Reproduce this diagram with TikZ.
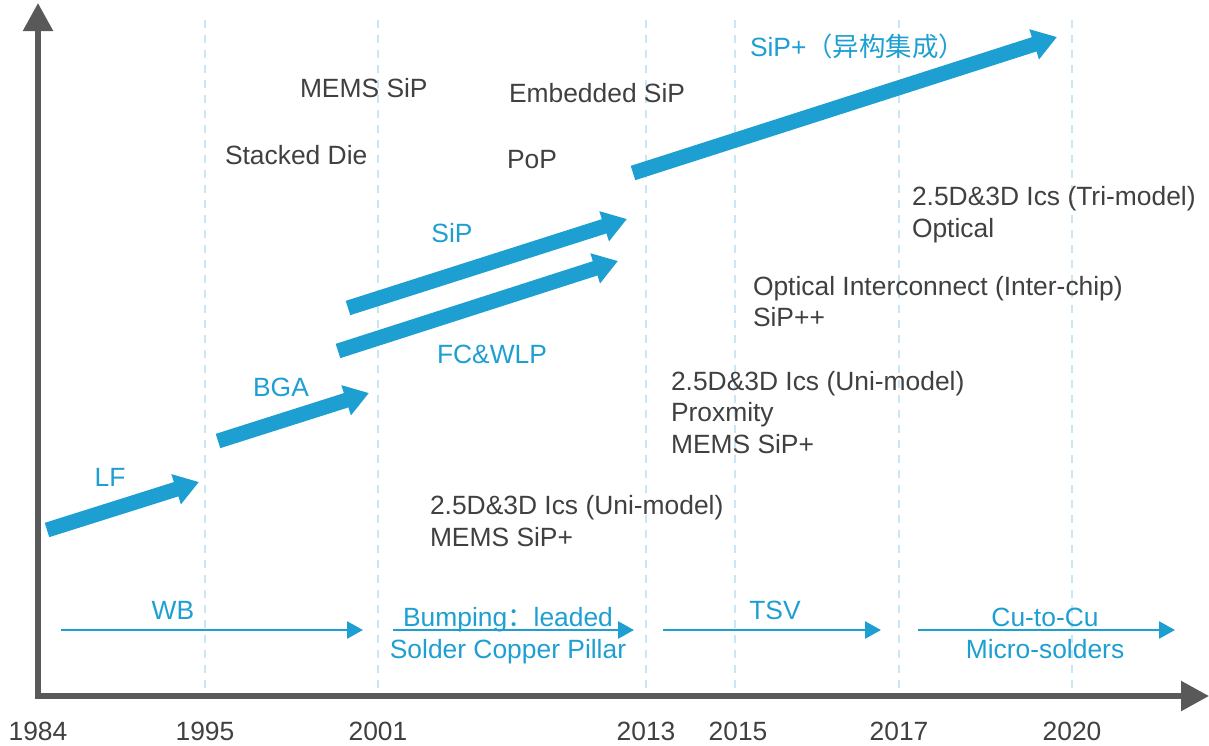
\documentclass[tikz,border=0pt]{standalone}
\usepackage{fontspec}
\setmainfont{Liberation Sans}
\newfontfamily\cjk{Noto Sans CJK SC}
\usetikzlibrary{arrows.meta}
\definecolor{axisgray}{RGB}{89,89,89}
\definecolor{txtgray}{RGB}{64,64,64}
\definecolor{sblue}{RGB}{30,159,210}
\definecolor{dashblue}{RGB}{200,230,246}
\tikzset{
  x=1pt,y=-1pt,
  every node/.style={font=\fontsize{26.4}{31}\selectfont, inner sep=0pt, outer sep=0pt},
  gtxt/.style={text=txtgray, anchor=base west},
  btxt/.style={text=sblue, anchor=base},
  yr/.style={text=txtgray, anchor=base},
  axis/.style={draw=axisgray, line width=5.5pt, -{Triangle[length=28pt,width=29pt]}},
  grid/.style={draw=dashblue, line width=2pt, dash pattern=on 8pt off 7pt},
  thick arrow/.style={draw=sblue, line width=15pt, line cap=butt, -{Triangle[length=24pt,width=30pt]}},
  thin arrow/.style={draw=sblue, line width=2.6pt, -{Triangle[length=16pt,width=17pt]}},
}
\begin{document}
\begin{tikzpicture}
\useasboundingbox (0,0) rectangle (1209,745);
% grid lines
\foreach \gx/\gn in {205/g1995,378/g2001,646/g2013,735/g2015,899/g2017,1072/g2020}{
  \coordinate (\gn t) at (\gx,20);
  \coordinate (\gn b) at (\gx,692);
  \draw[grid] (\gn t) -- (\gn b);
}
% axes
\coordinate (origin) at (38,696);
\coordinate (ytip) at (38,3);
\coordinate (xtip) at (1209,696);
\coordinate (ybase) at (38,698.75);
\coordinate (xbase) at (35.25,696);
\draw[axis] (ybase) -- (ytip);
\draw[axis] (xbase) -- (xtip);
% years
\node[yr] (y1984) at (38,740) {1984};
\node[yr] (y1995) at (205,740) {1995};
\node[yr] (y2001) at (378,740) {2001};
\node[yr] (y2013) at (646,740) {2013};
\node[yr] (y2015) at (738,740) {2015};
\node[yr] (y2017) at (899,740) {2017};
\node[yr] (y2020) at (1072,740) {2020};
% thick arrows
\coordinate (lfA) at (47,530);  \coordinate (lfB) at (199,482);
\coordinate (bgaA) at (218,441); \coordinate (bgaB) at (369,393);
\coordinate (fcA) at (338,351); \coordinate (fcB) at (618,261);
\coordinate (sipA) at (348,308); \coordinate (sipB) at (627,219);
\coordinate (spA) at (633,173); \coordinate (spB) at (1057,37);
\draw[thick arrow] (lfA) -- (lfB);
\draw[thick arrow] (bgaA) -- (bgaB);
\draw[thick arrow] (fcA) -- (fcB);
\draw[thick arrow] (sipA) -- (sipB);
\draw[thick arrow] (spA) -- (spB);
% thin arrows
\coordinate (wbA) at (61,630); \coordinate (wbB) at (363,630);
\coordinate (bpA) at (393,630); \coordinate (bpB) at (634,630);
\coordinate (tsvA) at (663,630); \coordinate (tsvB) at (881,630);
\coordinate (cuA) at (918,630); \coordinate (cuB) at (1175,630);
\draw[thin arrow] (wbA) -- (wbB);
\draw[thin arrow] (bpA) -- (bpB);
\draw[thin arrow] (tsvA) -- (tsvB);
\draw[thin arrow] (cuA) -- (cuB);
% blue labels
\node[btxt] (lf) at (110,486.5) {LF};
\node[btxt] (bga) at (281,396.5) {BGA};
\node[btxt] (sip) at (452,242.5) {SiP};
\node[btxt] (fcwlp) at (492,363.5) {FC\&WLP};
\node[btxt,anchor=base west] (sipplus) at (750,56.5) {SiP+{\cjk （异构集成）}};
\node[btxt] (wb) at (173,619.5) {WB};
\node[btxt] (tsv) at (775,619.5) {TSV};
\node[btxt] (bump) at (508,626.5) {Bumping{\cjk ：}leaded};
\node[btxt] (solder) at (508,658.5) {Solder Copper Pillar};
\node[btxt] (cucu) at (1045,626.5) {Cu-to-Cu};
\node[btxt] (micro) at (1045,658.5) {Micro-solders};
% gray labels
\node[gtxt] (memssip) at (300,97.5) {MEMS SiP};
\node[gtxt] (stacked) at (225,164.5) {Stacked Die};
\node[gtxt] (embedded) at (509,102.5) {Embedded SiP};
\node[gtxt] (pop) at (507,168.5) {PoP};
\node[gtxt] (tri) at (912,205.5) {2.5D\&3D Ics (Tri-model)};
\node[gtxt] (optical) at (912,237.5) {Optical};
\node[gtxt] (oic) at (753,295.5) {Optical Interconnect (Inter-chip)};
\node[gtxt] (sippp) at (753,326.5) {SiP++};
\node[gtxt] (uniR) at (671,390.5) {2.5D\&3D Ics (Uni-model)};
\node[gtxt] (prox) at (671,421.5) {Proxmity};
\node[gtxt] (memsR) at (671,453.5) {MEMS SiP+};
\node[gtxt] (uniL) at (430,514.5) {2.5D\&3D Ics (Uni-model)};
\node[gtxt] (memsL) at (430,546.5) {MEMS SiP+};
\end{tikzpicture}
\end{document}
